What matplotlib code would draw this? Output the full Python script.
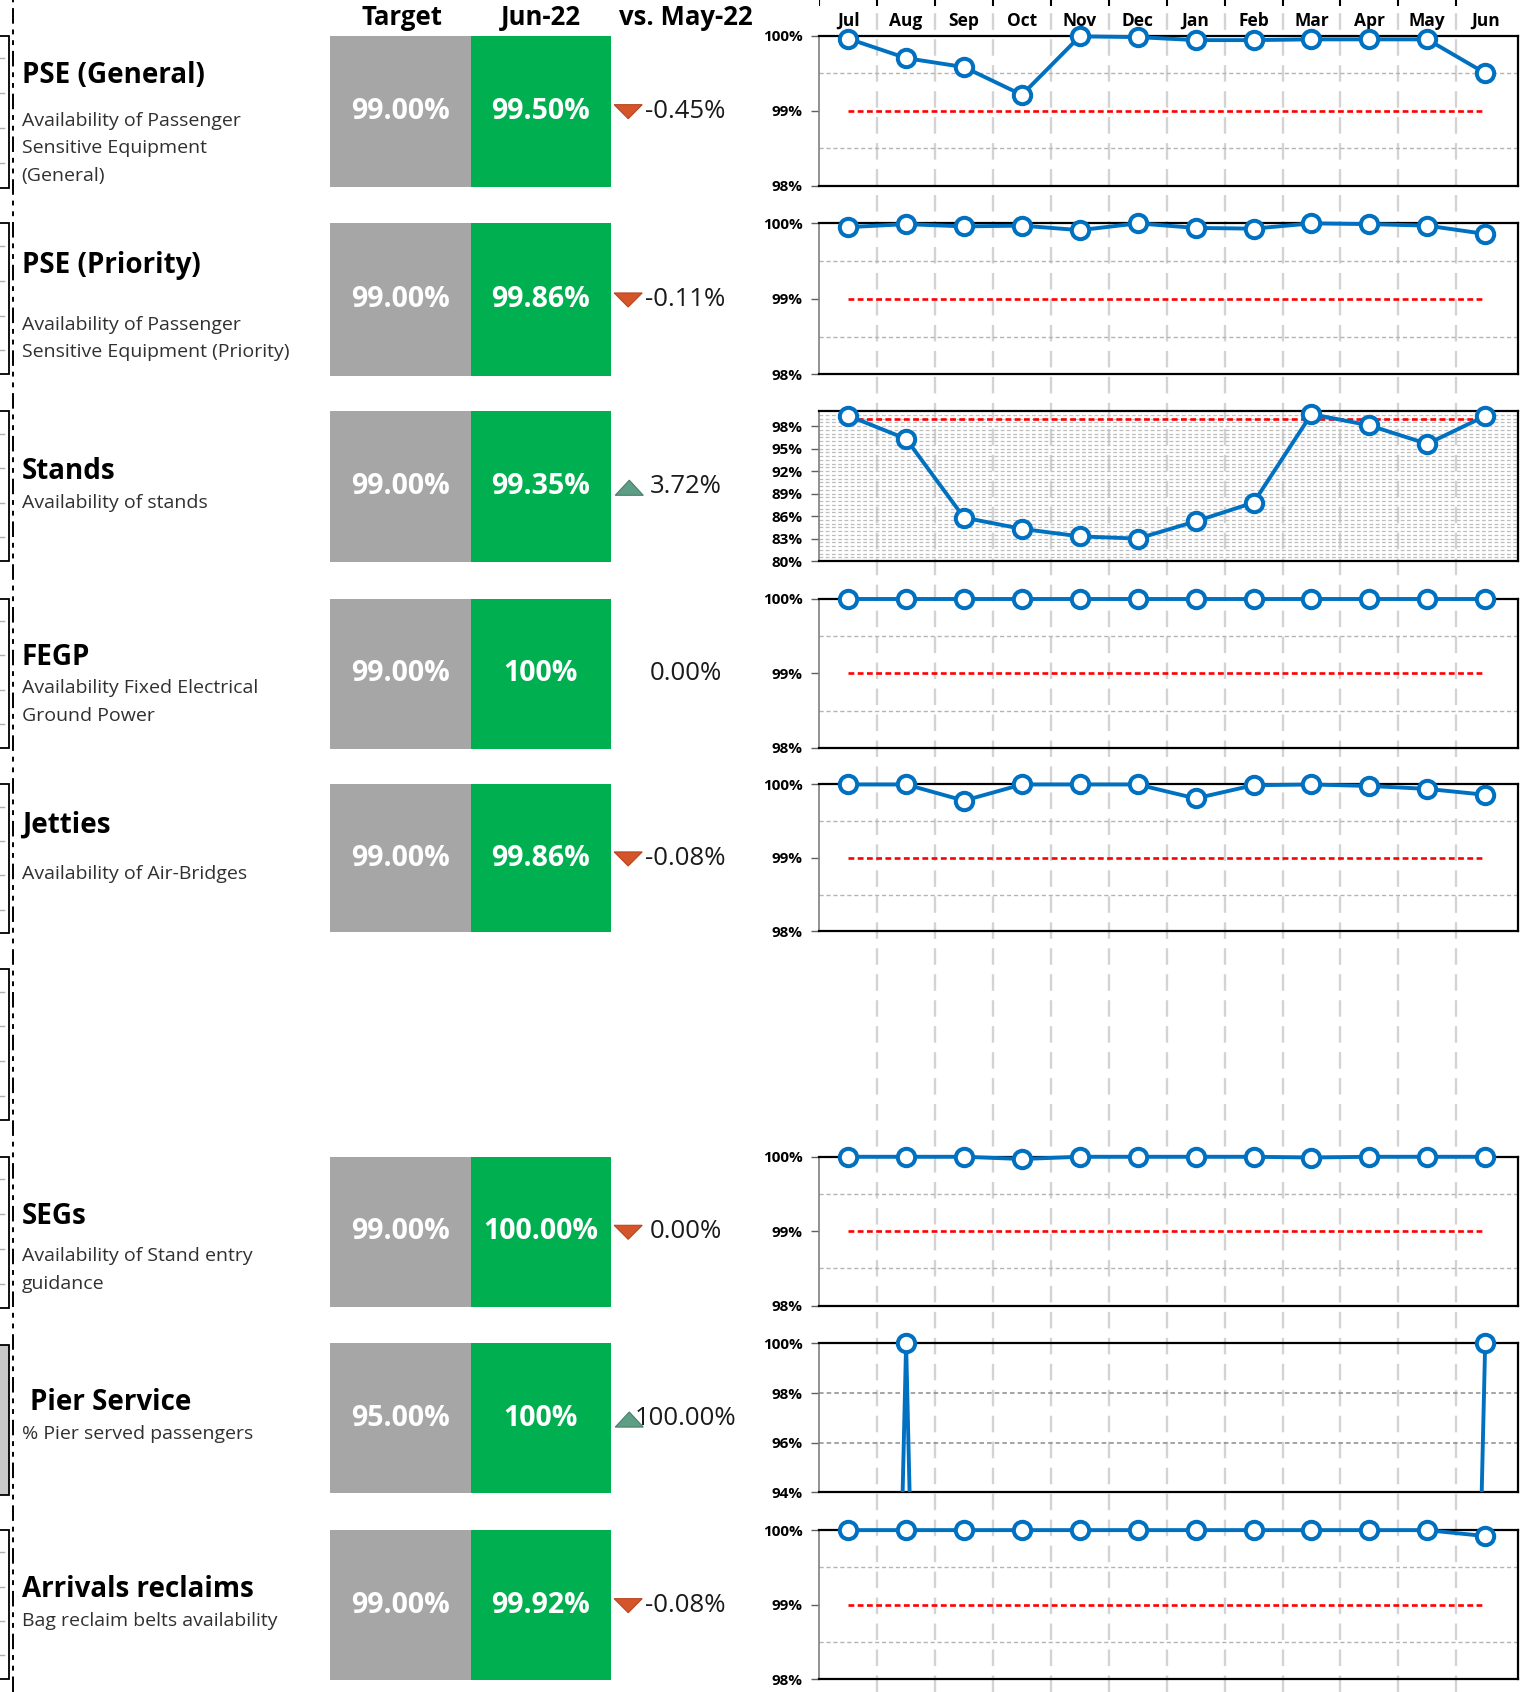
"""KPI availability dashboard: target / current boxes plus 12-month trend strips."""

import numpy as np
import matplotlib

matplotlib.use("Agg")
import matplotlib.pyplot as plt
from matplotlib.patches import Rectangle, Polygon
from matplotlib.lines import Line2D

plt.rcParams["font.family"] = ["Open Sans", "DejaVu Sans"]

# ---- data -------------------------------------------------------------
months = ["Jul", "Aug", "Sep", "Oct", "Nov", "Dec", "Jan", "Feb", "Mar", "Apr", "May", "Jun"]

kpi_names = ["PSE (General)", "PSE (Priority)", "Stands", "FEGP", "Jetties",
             "SEGs", "Pier Service", "Arrivals reclaims"]
kpi_subtitles = [
    ["Availability of Passenger", "Sensitive Equipment", "(General)"],
    ["Availability of Passenger", "Sensitive Equipment (Priority)"],
    ["Availability of stands"],
    ["Availability Fixed Electrical", "Ground Power"],
    ["Availability of Air-Bridges"],
    ["Availability of Stand entry", "guidance"],
    ["% Pier served passengers"],
    ["Bag reclaim belts availability"],
]
target_labels = ["99.00%", "99.00%", "99.00%", "99.00%", "99.00%", "99.00%", "95.00%", "99.00%"]
current_labels = ["99.50%", "99.86%", "99.35%", "100%", "99.86%", "100.00%", "100%", "99.92%"]
delta_labels = ["-0.45%", "-0.11%", "3.72%", "0.00%", "-0.08%", "0.00%", "100.00%", "-0.08%"]
delta_dirs = ["down", "down", "up", "none", "down", "down", "up", "down"]

pse_general = [99.96, 99.70, 99.58, 99.21, 99.99, 99.98, 99.94, 99.94, 99.95, 99.95, 99.95, 99.50]
pse_priority = [99.95, 99.99, 99.96, 99.97, 99.91, 100.0, 99.94, 99.93, 100.0, 99.99, 99.97, 99.86]
stands = [99.4, 96.3, 85.8, 84.3, 83.3, 83.0, 85.3, 87.8, 99.6, 98.1, 95.63, 99.35]
fegp = [100.0] * 12
jetties = [100.0, 100.0, 99.78, 100.0, 100.0, 100.0, 99.81, 99.99, 100.0, 99.98, 99.94, 99.86]
segs = [100.0, 100.0, 100.0, 99.97, 100.0, 100.0, 100.0, 100.0, 99.99, 100.0, 100.0, 100.0]
pier_service = [0.0, 100.0, 0.0, 0.0, 0.0, 0.0, 0.0, 0.0, 0.0, 0.0, 0.0, 100.0]
arrivals = [100.0, 100.0, 100.0, 100.0, 100.0, 100.0, 100.0, 100.0, 100.0, 100.0, 100.0, 99.92]

series = [pse_general, pse_priority, stands, fegp, jetties, segs, pier_service, arrivals]
chart_targets = [99, 99, 99, 99, 99, 99, None, 99]
y_ranges = [(98, 100)] * 6 + [(94, 100), (98, 100)]
y_ranges[2] = (80, 100)
y_ticks = [[98, 99, 100]] * 8
y_ticks[2] = [80, 83, 86, 89, 92, 95, 98]
y_ticks[6] = [94, 96, 98, 100]

# ---- layout (reference pixel grid) -----------------------------------
W, H = 1411, 1568
_BLUE = "#0070C0"
_GREEN = "#00B050"
_GREY = "#A6A6A6"


def fx(x):
    return x / W


def fy(y):
    return 1 - y / H


rows = [(33, 173), (207, 348), (381, 521), (555, 694), (727, 864),
        (1072, 1211), (1245, 1384), (1418, 1557)]
title_y = [70, 246, 437, 609, 765, 1127, 1300, 1473]
sub_y = [112, 301, 466, 638, 810, 1164, 1329, 1502]
left_boxes = [(33, 174), (207, 347), (381, 520), (555, 693), (727, 865),
              (898, 1038), (1072, 1212), (1246, 1385), (1418, 1556)]

fig = plt.figure(figsize=(15.23, 16.92), dpi=100)
fig.patch.set_facecolor("white")

CL, CR = 759, 1406
XLIM = (-0.5, 11.56)

# background column: vertical month separators, month labels, top ticks
bg = fig.add_axes([fx(CL), 0, fx(CR) - fx(CL), 1], zorder=0)
bg.set_xlim(*XLIM)
bg.set_ylim(0, 1)
bg.axis("off")
seps = np.arange(len(months) - 1) + 0.5
for s in seps:
    bg.plot([s, s], [0, fy(6)], color="#d3d3d3", lw=1.7, dashes=(7, 4))
bg.vlines(np.arange(-0.5, len(months) - 1, 1.0), fy(6), 1, color="black", lw=1.5)
for i, m in enumerate(months):
    bg.text(i, fy(19), m, ha="center", va="center", fontsize=12.5, fontweight="bold")

# headers
for xc, lab in [(372, "Target"), (501, "Jun-22"), (635, "vs. May-22")]:
    fig.text(fx(xc), fy(16), lab, ha="center", va="center", fontsize=18.5, fontweight="bold")

# left edge remnants
fig.add_artist(Line2D([fx(12.5)] * 2, [0, 1], transform=fig.transFigure, color="black",
                      lw=1.4, dashes=(8, 3, 2.5, 3, 2.5, 3)))
for k, (t, b) in enumerate(left_boxes):
    fc = "#c8c8c8" if k == 7 else "none"
    fig.add_artist(Rectangle((fx(-20), fy(b)), fx(8) - fx(-20), (b - t) / H,
                             transform=fig.transFigure, fc=fc, ec="black", lw=1.3))
    if k != 7:
        for f in (0.15, 0.38, 0.61, 0.84):
            yy = fy(t + f * (b - t))
            fig.add_artist(Line2D([0, fx(4)], [yy, yy], transform=fig.transFigure,
                                  color="#b0b0b0", lw=1))

x = np.arange(len(months))
for k, (t, b) in enumerate(rows):
    yc = (t + b) / 2

    # text block
    tx = 28 if k == 6 else 20
    fig.text(fx(tx), fy(title_y[k]), kpi_names[k], ha="left", va="center",
             fontsize=20, fontweight="bold")
    for j, line in enumerate(kpi_subtitles[k]):
        fig.text(fx(20), fy(sub_y[k] + 25.5 * j), line, ha="left", va="center",
                 fontsize=14, color="#303030")

    # value boxes
    fig.add_artist(Rectangle((fx(306), fy(b)), fx(436) - fx(306), (b - t) / H,
                             transform=fig.transFigure, fc=_GREY, ec="none"))
    fig.add_artist(Rectangle((fx(436), fy(b)), fx(566) - fx(436), (b - t) / H,
                             transform=fig.transFigure, fc=_GREEN, ec="none"))
    fig.text(fx(371), fy(yc), target_labels[k], ha="center", va="center",
             fontsize=20.5, fontweight="bold", color="white")
    fig.text(fx(501), fy(yc), current_labels[k], ha="center", va="center",
             fontsize=20.5, fontweight="bold", color="white")

    # delta vs previous month
    fig.text(fx(635), fy(yc), delta_labels[k], ha="center", va="center",
             fontsize=18.5, color="#1a1a1a")
    if delta_dirs[k] == "down":
        tri = [(fx(569), fy(yc - 6)), (fx(595), fy(yc - 6)), (fx(582), fy(yc + 7))]
        fig.add_artist(Polygon(tri, closed=True, transform=fig.transFigure,
                               fc="#D5552B", ec="#b8441f", lw=0.8))
    elif delta_dirs[k] == "up":
        tri = [(fx(570), fy(yc + 8)), (fx(596), fy(yc + 8)), (fx(583), fy(yc - 6))]
        fig.add_artist(Polygon(tri, closed=True, transform=fig.transFigure,
                               fc="#5E9E86", ec="#4a7f6a", lw=0.8))

    # trend chart
    ct, cb = rows[k][0], rows[k][1] - 1
    ax = fig.add_axes([fx(CL), fy(cb), fx(CR) - fx(CL), (cb - ct) / H], zorder=2)
    ax.set_facecolor("none")
    ax.set_xlim(*XLIM)
    lo, hi = y_ranges[k]
    ax.set_ylim(lo, hi)
    ax.set_xticks([])
    ax.set_yticks(y_ticks[k])
    ax.set_yticklabels([f"{v:.0f}%" for v in y_ticks[k]], fontsize=11, fontweight="bold")
    ax.tick_params(axis="y", length=6, width=1, color="#606060", pad=6)

    if k == 2:
        for g in np.arange(lo + 0.5, hi, 0.5):
            ax.axhline(g, color="#bdbdbd", lw=0.9, dashes=(3, 2), zorder=1)
    elif k == 6:
        for g in (96, 98):
            ax.axhline(g, color="#8c8c8c", lw=1.1, dashes=(3, 2), zorder=1)
    else:
        for g in (lo + 0.5, hi - 0.5):
            ax.axhline(g, color="#b4b4b4", lw=1.0, dashes=(3, 2), zorder=1)

    if chart_targets[k] is not None:
        ax.plot([x[0], x[-1]], [chart_targets[k]] * 2, color="red", lw=1.9,
                dashes=(2.2, 1.3), zorder=2)

    vals = np.array(series[k], dtype=float)
    line, = ax.plot(x, vals, color=_BLUE, lw=2.8, zorder=3)
    clip = Rectangle((0, 0), 1, 1.2, transform=ax.transAxes, visible=False)
    ax.add_artist(clip)
    line.set_clip_path(clip)
    shown = np.where(vals >= lo, vals, np.nan)
    ax.plot(x, shown, ls="none", marker="o", ms=12.5, mfc="white", mec=_BLUE,
            mew=2.9, zorder=4, clip_on=False)

    for side in ("top", "right", "bottom"):
        ax.spines[side].set_color("black")
        ax.spines[side].set_linewidth(1.6)
    ax.spines["left"].set_color("#7f7f7f")
    ax.spines["left"].set_linewidth(1.2)

fig.savefig("out.png", dpi=100, facecolor="white")
plt.close(fig)
